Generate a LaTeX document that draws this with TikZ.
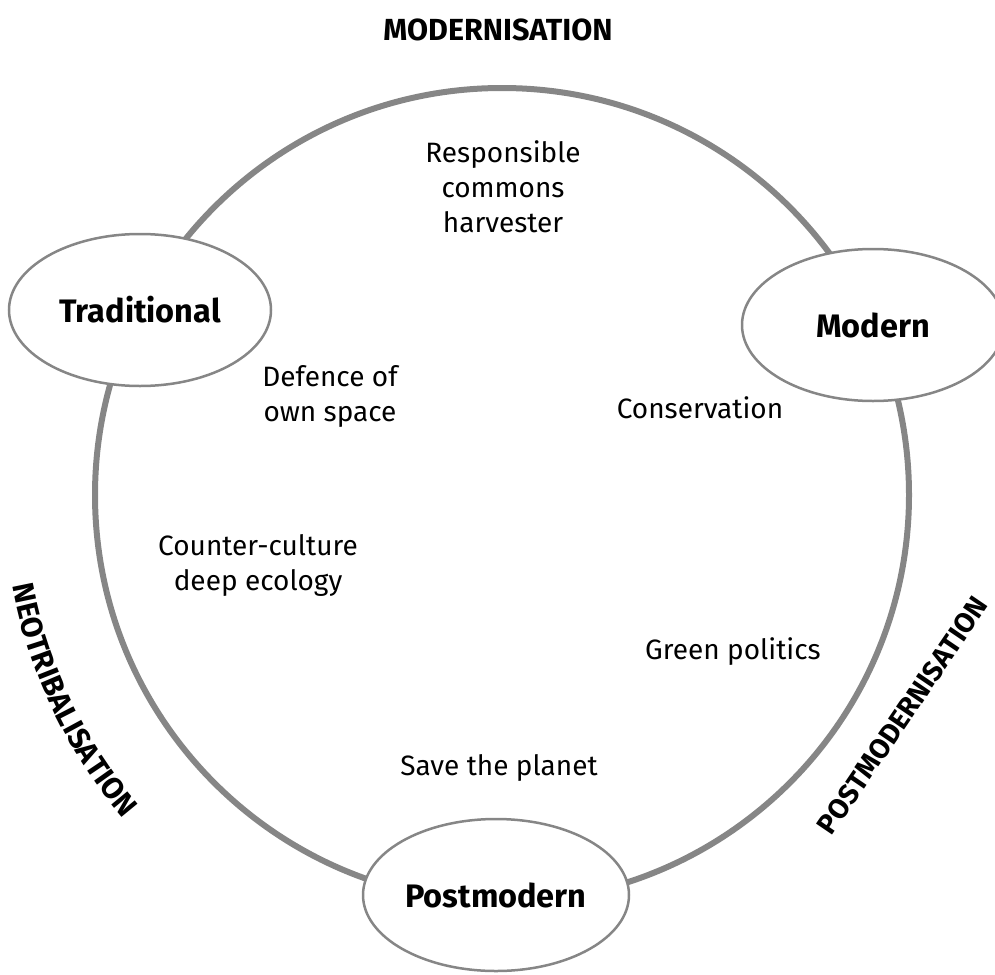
\documentclass[tikz,border=0pt]{standalone}
\usepackage{fontspec}
\setmainfont{Fira Sans}
\usetikzlibrary{shapes.geometric,decorations.text}

\begin{document}
\begin{tikzpicture}[x=1pt,y=1pt]
    \tikzstyle{stage}=[draw=gray!95,line width=2.5pt,ellipse,fill=white,
                       minimum width=262pt,minimum height=152pt,
                       font=\fontsize{32.5}{38}\selectfont\bfseries]
    \tikzstyle{role}=[align=center,font=\fontsize{28}{35}\selectfont]

    \useasboundingbox (0,0) rectangle (995,-974);
    \coordinate (c) at (502,-495);
    \draw[gray!95,line width=6pt] (c) circle (407);

    \node (modernisation) at (498,-30) [font=\fontsize{30.5}{36}\selectfont\bfseries] {MODERNISATION};

    \node (traditional) at (140,-310) [stage] {Traditional};
    \node (modern) at (873,-325) [stage] {Modern};
    \node (postmodern) at (496,-895) [stage] {Postmodern};

    \node (harvester) at (503,-187) [role] {Responsible\\commons\\harvester};
    \node (defence) at (330,-396) [role] {Defence of\\own space};
    \node (conservation) at (700,-408) [role] {Conservation};
    \node (counter) at (258,-565) [role] {Counter-culture\\deep ecology};
    \node (green) at (733,-652) [role] {Green politics};
    \node (planet) at (499,-768) [role] {Save the planet};

    % phases written along the circle
    \path[decorate,decoration={text along path,text align=center,
          text={|\fontsize{30}{36}\selectfont\bfseries|NEOTRIBALISATION}}]
      ([shift={(183:498)}]c) arc[start angle=183,end angle=228,radius=498];
    \path[decorate,decoration={text along path,text align=center,
          text={|\fontsize{28}{36}\selectfont\bfseries|POSTMODERNISATION}}]
      (818,-857) -- (1003,-585);
\end{tikzpicture}
\end{document}
